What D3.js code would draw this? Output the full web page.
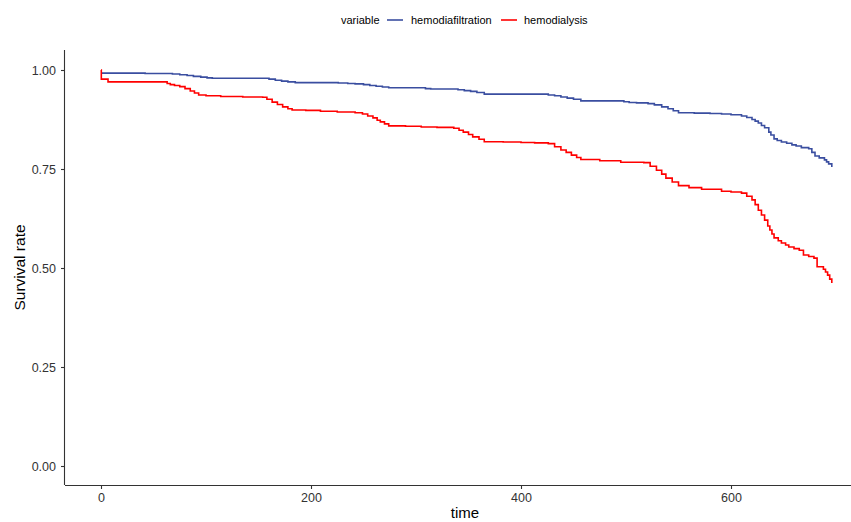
<!DOCTYPE html>
<html><head><meta charset="utf-8">
<script src="https://cdn.jsdelivr.net/npm/d3@7"></script>
<style>body{margin:0;background:#fff}svg{display:block}text{font-family:"Liberation Sans",Arial,sans-serif}</style>
</head><body><svg id="c" width="851" height="522"></svg>
<script>
const seriesNames = ["hemodiafiltration", "hemodialysis"];
const seriesColors = ["#3a4ea0", "#ff0000"];
const xTicks = [0, 200, 400, 600];
const yTicks = [0, 0.25, 0.5, 0.75, 1.0];
const hdfTime = [0,42,68,75,82,88,95,101,106,154,160,166,172,178,185,226,235,242,250,256,262,268,274,309,314,340,346,352,358,365,426,432,438,444,450,457,498,503,510,521,527,534,540,545,550,565,580,591,600,610,615,620,623,626,629,632,636,638,641,644,648,653,658,662,667,674,677,680,684,689,691,693,696];
const hdfSurv = [0.992,0.991,0.990,0.988,0.986,0.984,0.982,0.980,0.979,0.979,0.977,0.974,0.972,0.970,0.968,0.967,0.966,0.965,0.963,0.961,0.959,0.957,0.955,0.953,0.952,0.950,0.948,0.946,0.943,0.939,0.937,0.935,0.932,0.929,0.926,0.922,0.920,0.918,0.917,0.915,0.912,0.907,0.902,0.897,0.892,0.891,0.890,0.889,0.887,0.884,0.880,0.875,0.871,0.866,0.860,0.854,0.843,0.836,0.826,0.822,0.818,0.815,0.811,0.808,0.804,0.801,0.792,0.783,0.778,0.773,0.768,0.763,0.755];
const hdTime = [0,0.3,6.7,63,66,70,75,80,85,89,93,100,114,135,154,158,163,168,173,178,182,195,209,225,242,249,254,259,263,266,270,274,290,305,320,336,341,345,350,354,360,365,383,400,413,426,432,438,443,448,453,457,475,495,517,523,529,534,538,544,550,560,572,591,600,610,615,620,623,626,629,632,635,637,639,641,645,648,652,655,660,665,669,674,679,682,688,690,692,694,696];
const hdSurv = [1.0,0.977,0.970,0.966,0.963,0.961,0.958,0.953,0.947,0.942,0.937,0.935,0.933,0.932,0.931,0.926,0.919,0.913,0.907,0.902,0.899,0.898,0.896,0.894,0.892,0.889,0.884,0.879,0.873,0.869,0.864,0.859,0.858,0.856,0.855,0.853,0.848,0.843,0.837,0.831,0.825,0.819,0.818,0.817,0.816,0.814,0.806,0.798,0.792,0.785,0.779,0.774,0.771,0.767,0.766,0.757,0.747,0.737,0.727,0.717,0.708,0.703,0.699,0.694,0.692,0.689,0.681,0.672,0.660,0.646,0.634,0.621,0.606,0.596,0.586,0.576,0.569,0.563,0.558,0.553,0.549,0.545,0.533,0.529,0.525,0.503,0.497,0.490,0.482,0.472,0.462];

const svg = d3.select("#c");
const pLeft = 65, pTop = 50, pBottom = 485;
const x = d3.scaleLinear().domain([0, 600]).range([101, 731]);
const y = d3.scaleLinear().domain([0, 1]).range([466, 70]);

// axes
const gx = svg.append("g").attr("transform", `translate(0,${pBottom})`)
  .call(d3.axisBottom(x).tickValues(xTicks).tickSize(4).tickPadding(4).tickFormat(d3.format("d")));
gx.select(".domain").attr("d", `M${pLeft},0.5H900`);
const gy = svg.append("g").attr("transform", `translate(${pLeft},0)`)
  .call(d3.axisLeft(y).tickValues(yTicks).tickSize(4).tickPadding(5).tickFormat(d3.format(".2f")));
gy.select(".domain").attr("d", `M-0.5,${pTop}V${pBottom}`);
svg.selectAll(".domain").attr("stroke", "#333").attr("stroke-width", 1.1);
svg.selectAll(".tick line").attr("stroke", "#333").attr("stroke-width", 1.1);
svg.selectAll(".tick text").attr("fill", "#333").attr("font-size", 12.5);

// lines
const data = [hdfTime.map((t,i)=>[t,hdfSurv[i]]), hdTime.map((t,i)=>[t,hdSurv[i]])];
const line = d3.line().x(d=>x(d[0])).y(d=>y(d[1])).curve(d3.curveStepAfter);
data.forEach((d,i)=>{
  svg.append("path").datum(d).attr("d", line).attr("fill","none")
    .attr("stroke", seriesColors[i]).attr("stroke-width", 1.6);
});

// titles
svg.append("text").attr("x", 465).attr("y", 518).attr("text-anchor","middle")
  .attr("font-size", 15).attr("fill","#000").text("time");
svg.append("text").attr("transform", `translate(25,${(pTop+pBottom)/2}) rotate(-90)`)
  .attr("text-anchor","middle").attr("font-size", 15.5).attr("fill","#000").text("Survival rate");

// legend
const lg = svg.append("g");
lg.append("text").attr("x", 341).attr("y", 24).attr("font-size", 11).attr("fill","#000").text("variable");
const keyX = [387, 501], labX = [411, 524];
seriesNames.forEach((n,i)=>{
  lg.append("line").attr("x1", keyX[i]).attr("x2", keyX[i]+16).attr("y1", 20).attr("y2", 20)
    .attr("stroke", seriesColors[i]).attr("stroke-width", 1.6);
  lg.append("text").attr("x", labX[i]).attr("y", 24).attr("font-size", 11).attr("fill","#000").text(n);
});
</script></body></html>
